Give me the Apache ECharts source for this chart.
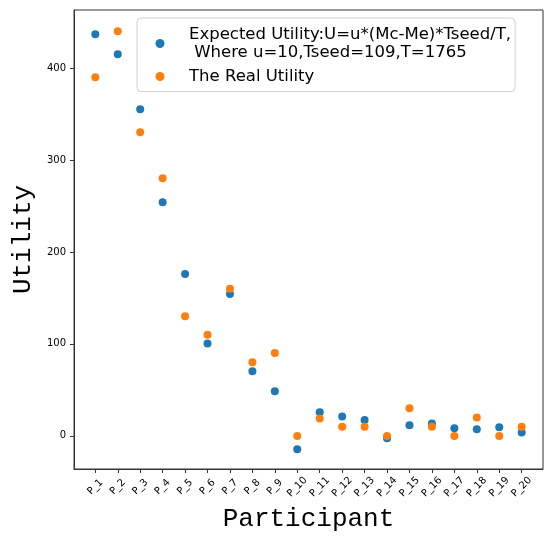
<!DOCTYPE html>
<html><head><meta charset="utf-8">
<script src="https://cdn.jsdelivr.net/npm/echarts@6/dist/echarts.min.js"></script>
<style>html,body{margin:0;padding:0;background:#fff}#c{width:545px;height:537px}</style>
</head><body><div id="c"></div>
<script>
const categories = ["P_1","P_2","P_3","P_4","P_5","P_6","P_7","P_8","P_9","P_10","P_11","P_12","P_13","P_14","P_15","P_16","P_17","P_18","P_19","P_20"];
const expectedUtility = [436.6,414.9,355.1,254,176,100.4,154.3,70.3,48.6,-14.5,25.7,21,17.4,-2.5,11.6,13.4,8.3,7.2,9.4,3.6];
const realUtility = [390,440,330,280,130,110,160,80,90,0,19,10,10,0,30,10,0,20,0,10];
const yTicks = [0,100,200,300,400];
const expectedName = "Expected Utility:U=u*(Mc-Me)*Tseed/T,\n Where u=10,Tseed=109,T=1765";
const realName = "The Real Utility";

const chart = echarts.init(document.getElementById('c'), null, {renderer:'canvas'});
const xIdx = categories.map((_, i) => i);
chart.setOption({
  animation: false,
  grid: {left: 74, top: 10, right: 2, bottom: 68, show: true, borderColor: '#333', borderWidth: 1, outerBoundsMode: 'none', containLabel: false},
  legend: {
    orient: 'vertical', left: 137, top: 18,
    padding: [7.5, 4, 6, 18.5],
    borderColor: '#d0d0d0', borderWidth: 1, borderRadius: 4,
    backgroundColor: 'rgba(255,255,255,0.8)',
    itemWidth: 9, itemHeight: 9, itemGap: 6,
    textStyle: {fontFamily: 'DejaVu Sans', fontSize: 16.5, color: '#000', lineHeight: 18, padding: [0,0,0,19.5]},
    data: [{name: expectedName, icon: 'circle'}, {name: realName, icon: 'circle'}]
  },
  xAxis: {
    type: 'value', min: -0.95, max: 19.95,
    name: 'Participant', nameLocation: 'middle', nameGap: 35,
    nameTextStyle: {fontFamily: 'Liberation Mono', fontSize: 26, color: '#000', verticalAlign: 'top'},
    axisLine: {show: true, onZero: false, lineStyle: {color: '#333'}},
    axisTick: {show: true, length: 4, customValues: xIdx, lineStyle: {color: '#333'}},
    splitLine: {show: false},
    axisLabel: {customValues: xIdx, rotate: 45, align: 'center', verticalAlign: 'middle', fontFamily: 'DejaVu Sans', fontSize: 10, color: '#000', margin: 18,
      formatter: v => categories[Math.round(v)]}
  },
  yAxis: {
    type: 'value', min: -36, max: 463,
    name: 'Utility', nameLocation: 'middle', nameGap: 37, nameRotate: 90,
    nameTextStyle: {fontFamily: 'Liberation Mono', fontSize: 26, color: '#000'},
    axisLine: {show: true, onZero: false, lineStyle: {color: '#333'}},
    axisTick: {show: true, length: 4, customValues: yTicks, lineStyle: {color: '#333'}},
    splitLine: {show: false},
    axisLabel: {customValues: yTicks, fontFamily: 'DejaVu Sans', fontSize: 10, color: '#000', margin: 8}
  },
  series: [
    {name: expectedName, type: 'scatter', symbolSize: 8, itemStyle: {color: '#1f77b4', opacity: 1},
      data: expectedUtility.map((v, i) => [i, v])},
    {name: realName, type: 'scatter', symbolSize: 8, itemStyle: {color: '#ff7f0e', opacity: 1},
      data: realUtility.map((v, i) => [i, v])}
  ]
});
</script></body></html>
